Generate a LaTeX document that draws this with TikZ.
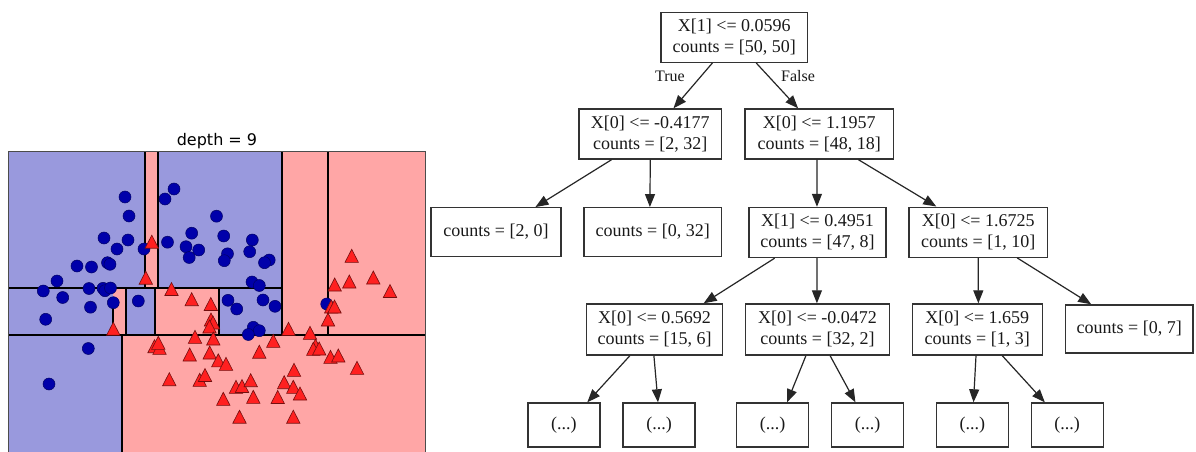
\documentclass[tikz,border=0pt]{standalone}
\usepackage{fontspec}
\setmainfont{Liberation Serif}
\newfontfamily\plotfont{DejaVu Sans}
\usetikzlibrary{arrows.meta,calc}
\definecolor{bgblue}{RGB}{153,153,221}
\definecolor{bgred}{RGB}{255,166,166}
\definecolor{ptblue}{RGB}{0,0,170}
\definecolor{ptred}{RGB}{255,32,32}
\begin{document}
\begin{tikzpicture}[x=1pt,y=-1pt,
  tbox/.style={draw=black!80, line width=1.4pt, minimum height=50pt, inner sep=0pt, align=center, font=\fontsize{18}{21}\selectfont, text=black!90},
  leafbox/.style={draw=black!80, line width=1.4pt, minimum height=44pt, minimum width=72pt, inner sep=0pt, font=\fontsize{18}{21}\selectfont, text=black!90},
  edgelabel/.style={font=\fontsize{16}{19}\selectfont, text=black!90},
  edge/.style={-{Triangle[length=13pt,width=10pt]}, line width=1.2pt, draw=black!85},
  bnd/.style={line width=2.6pt, black},
  dotst/.style={fill=ptblue, draw=ptblue!60!black, line width=0.5pt},
  trist/.style={fill=ptred, draw=ptred!45!black, line width=0.6pt, line join=miter}
]
\clip (0,0) rectangle (1196,452);
\fill[white] (0,0) rectangle (1196,452);

% ---------- left: decision regions ----------
\fill[bgred] (8.5,151) rectangle (425,460);
\fill[bgblue] (8.5,151) rectangle (145,288);
\fill[bgblue] (158,151) rectangle (282,288);
\fill[bgblue] (8.5,288) rectangle (113,335);
\fill[bgblue] (126,288) rectangle (155,335);
\fill[bgblue] (219,288) rectangle (282,335);
\fill[bgblue] (8.5,335) rectangle (122,460);

\draw[bnd] (145,151) -- (145,288);
\draw[bnd] (158,151) -- (158,288);
\draw[bnd] (282,151) -- (282,335);
\draw[bnd] (328,151) -- (328,335);
\draw[bnd] (8.5,288) -- (282,288);
\draw[bnd] (8.5,335) -- (425,335);
\draw[bnd] (113,307) -- (113,335);
\draw[bnd] (126,288) -- (126,335);
\draw[bnd] (155,288) -- (155,335);
\draw[bnd] (219,288) -- (219,335);
\draw[bnd] (122,335) -- (122,460);

\draw[black!70, line width=0.8pt] (8.5,151) rectangle (425,460);

\node[font=\plotfont\fontsize{16}{19}\selectfont, anchor=base] (title) at (217,145) {depth = 9};

\foreach \x/\y in {125/197, 129/216, 174/189, 165/199, 104/238, 128/240, 117/249, 144/249,
  77/266, 91.5/267, 107.5/262.7, 110/264.3, 57/281, 43.3/291, 62.7/297.5, 89/288.5,
  103/288.3, 105/290.7, 110.5/288, 90.5/307.2, 113.3/302.7, 138.3/301, 45.7/319.3,
  88.3/348.5, 49/384, 216.5/216.2, 191.7/233.2, 167.5/242.2, 186/246.7, 198.7/250,
  189.2/257.5, 223.7/236, 227.5/253.8, 224.3/260.7, 252.3/240, 249.7/251.7, 269.2/260,
  264.5/262.7, 252/282, 259.3/285.5, 228/300.3, 236.7/309, 263/300, 275/306.3,
  253.3/327.3, 259.3/330.7, 248.3/334.5, 326.7/304}
  \filldraw[dotst] (\x,\y) circle (6pt);

\foreach \x/\y in {151.8/242.2, 145.8/278.2, 113.3/329.2, 171.5/289.5, 191.7/299.7,
  210.8/304.5, 211/320, 213/323, 209.5/327, 195/337.3, 213.3/339, 154.5/346.7,
  159.5/348.3, 158.3/343.3, 189.7/355, 209.7/353, 218.3/360.8, 226/364.3, 169.3/379.7,
  199.7/380.3, 205/375.5, 236/387.3, 242/386.5, 250.7/380.7, 223.3/399.3, 253.3/397.3,
  277.7/397.5, 239.5/417.2, 293.3/417.2, 294/370.3, 284.2/382.7, 293.3/387.3, 300/394,
  259.3/352.2, 273.3/341.3, 288.5/329.3, 310/333.3, 315.5/346, 313.3/349.3, 319.2/349,
  330.5/357.3, 338.3/356, 357/368.3, 351.7/256.3, 349.3/282, 373.3/278, 390/291.5,
  334.7/285, 331.2/307, 334.5/307, 328/320}
  \filldraw[trist] ({\x-6.7},{\y+6}) -- ({\x+6.7},{\y+6}) -- (\x,{\y-7}) -- cycle;

% ---------- right: tree ----------
\node[tbox, minimum width=146.7pt] (n0) at (734.3,37.3) {X[1] <= 0.0596\\counts = [50, 50]};
\node[tbox, minimum width=142.7pt] (nA) at (650.3,134) {X[0] <= -0.4177\\counts = [2, 32]};
\node[tbox, minimum width=148.3pt] (nB) at (819.2,134) {X[0] <= 1.1957\\counts = [48, 18]};
\node[tbox, minimum width=130pt, minimum height=48.5pt] (nC) at (496,232) {counts = [2, 0]};
\node[tbox, minimum width=137.7pt, minimum height=48.5pt] (nD) at (652.8,232) {counts = [0, 32]};
\node[tbox, minimum width=137pt] (nE) at (817.5,232.5) {X[1] <= 0.4951\\counts = [47, 8]};
\node[tbox, minimum width=138.3pt] (nF) at (978.2,232.2) {X[0] <= 1.6725\\counts = [1, 10]};
\node[tbox, minimum width=136pt, minimum height=51pt] (nG) at (654.6,329.5) {X[0] <= 0.5692\\counts = [15, 6]};
\node[tbox, minimum width=143.5pt, minimum height=51pt] (nH) at (817.5,329.5) {X[0] <= -0.0472\\counts = [32, 2]};
\node[tbox, minimum width=130pt, minimum height=51pt] (nI) at (977.3,329.5) {X[0] <= 1.659\\counts = [1, 3]};
\node[tbox, minimum width=127.3pt, minimum height=48pt] (nJ) at (1129.3,329) {counts = [0, 7]};
\node[leafbox] (l1) at (563.8,425) {(...)};
\node[leafbox] (l2) at (659.1,425) {(...)};
\node[leafbox] (l3) at (772.7,425) {(...)};
\node[leafbox] (l4) at (867.6,425) {(...)};
\node[leafbox] (l5) at (972.4,425) {(...)};
\node[leafbox] (l6) at (1067.2,425) {(...)};

\node[edgelabel] (lt) at (670,76) {True};
\node[edgelabel] (lf) at (798,76) {False};

\draw[edge] ($(n0.south west)!0.352!(n0.south east)$) -- ($(nA.north west)!0.661!(nA.north east)$);
\draw[edge] ($(n0.south west)!0.648!(n0.south east)$) -- ($(nB.north west)!0.359!(nB.north east)$);
\draw[edge] ($(nA.south west)!0.231!(nA.south east)$) -- ($(nC.north west)!0.8!(nC.north east)$);
\draw[edge] ($(nA.south west)!0.5!(nA.south east)$) -- ($(nD.north west)!0.479!(nD.north east)$);
\draw[edge] ($(nB.south west)!0.485!(nB.south east)$) -- ($(nE.north west)!0.496!(nE.north east)$);
\draw[edge] ($(nB.south west)!0.762!(nB.south east)$) -- ($(nF.north west)!0.2!(nF.north east)$);
\draw[edge] ($(nE.south west)!0.19!(nE.south east)$) -- ($(nG.north west)!0.857!(nG.north east)$);
\draw[edge] ($(nE.south west)!0.496!(nE.south east)$) -- ($(nH.north west)!0.496!(nH.north east)$);
\draw[edge] ($(nF.south west)!0.5!(nF.south east)$) -- ($(nI.north west)!0.508!(nI.north east)$);
\draw[edge] ($(nF.south west)!0.779!(nF.south east)$) -- ($(nJ.north west)!0.204!(nJ.north east)$);
\draw[edge] ($(nG.south west)!0.32!(nG.south east)$) -- ($(l1.north west)!0.82!(l1.north east)$);
\draw[edge] ($(nG.south west)!0.495!(nG.south east)$) -- ($(l2.north west)!0.485!(l2.north east)$);
\draw[edge] ($(nH.south west)!0.42!(nH.south east)$) -- ($(l3.north west)!0.696!(l3.north east)$);
\draw[edge] ($(nH.south west)!0.587!(nH.south east)$) -- ($(l4.north west)!0.334!(l4.north east)$);
\draw[edge] ($(nI.south west)!0.49!(nI.south east)$) -- ($(l5.north west)!0.515!(l5.north east)$);
\draw[edge] ($(nI.south west)!0.69!(nI.south east)$) -- ($(l6.north west)!0.195!(l6.north east)$);
\end{tikzpicture}
\end{document}
